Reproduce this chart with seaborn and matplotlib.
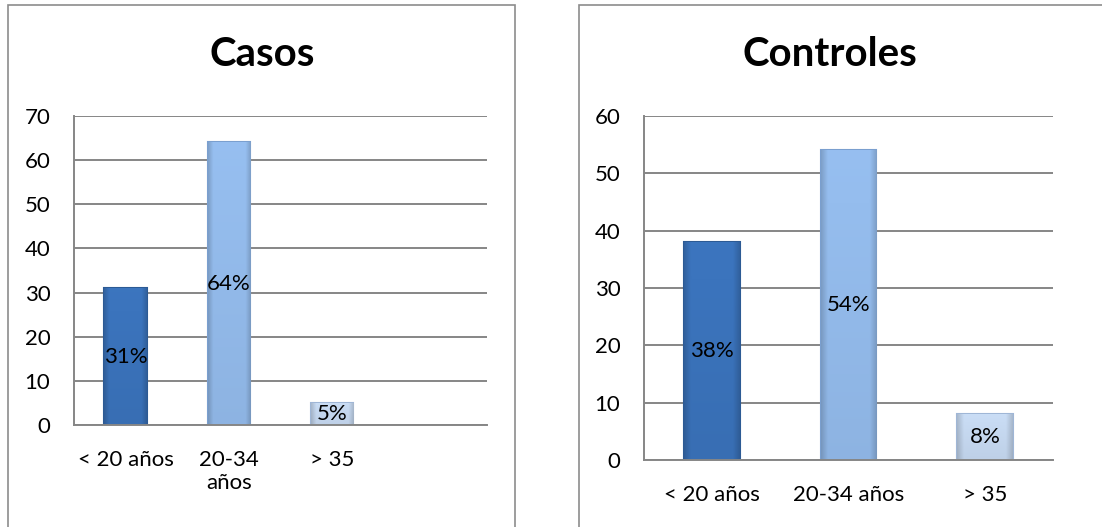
import matplotlib
matplotlib.use('Agg')
import matplotlib.pyplot as plt
from matplotlib.patches import Rectangle
from matplotlib.ticker import FixedLocator
from matplotlib.colors import to_rgb
import numpy as np
import seaborn as sns

# Data
casos_labels = ['< 20 años', '20-34\naños', '> 35']
casos_values = [31, 64, 5]
casos_pct = ['31%', '64%', '5%']

controles_labels = ['< 20 años', '20-34 años', '> 35']
controles_values = [38, 54, 8]
controles_pct = ['38%', '54%', '8%']

bar_colors = ['#3b74bd', '#95bdee', '#c8dbf3']
edge_colors = ['#2c5a94', '#7a9fcf', '#9fb6d6']
grid_gray = '#868686'

sns.set_style('white')
plt.rcParams['font.family'] = ['Lato', 'DejaVu Sans']
plt.rcParams['text.color'] = 'black'
plt.rcParams['xtick.color'] = 'black'
plt.rcParams['ytick.color'] = 'black'

fig = plt.figure(figsize=(11.02, 5.27), dpi=100)
W, H = 1102, 527


def shade_bar(ax, patch, color):
    # soft bevel look: darker at the sides, slightly darker at the bottom
    x0, y0 = patch.get_x(), patch.get_y()
    w, h = patch.get_width(), patch.get_height()
    base = np.array(to_rgb(color))
    xs = np.linspace(0, 1, 60)
    ys = np.linspace(0, 1, 80)[:, None]
    side = 1.0 - 0.16 * np.clip(1 - np.minimum(xs, 1 - xs) / 0.12, 0, 1)
    vert = 0.95 + 0.06 * ys
    fac = (side[None, :] * vert)[..., None]
    img = np.clip(base * fac, 0, 1)
    im = ax.imshow(img, extent=(x0, x0 + w, y0, y0 + h), origin='lower',
                   aspect='auto', interpolation='bilinear', zorder=2.5)
    im.set_clip_path(patch)


def style_axis(ax, n_slots, ymax, label_pad):
    ax.set_xlim(-0.5, n_slots - 0.5)
    ax.set_ylim(0, ymax)
    ax.set_yticks(range(0, ymax + 1, 10))
    ax.yaxis.grid(True, color=grid_gray, linewidth=1.4)
    ax.set_axisbelow(True)
    sns.despine(ax=ax, top=True, right=True)
    for s in ['left', 'bottom']:
        ax.spines[s].set_color(grid_gray)
        ax.spines[s].set_linewidth(1.4)
    ax.xaxis.set_minor_locator(FixedLocator([i - 0.5 for i in range(n_slots + 1)]))
    ax.tick_params(axis='x', which='major', length=0, pad=label_pad, labelsize=16)
    ax.tick_params(axis='x', which='minor', length=7, width=1.4, color=grid_gray, direction='out')
    ax.tick_params(axis='y', length=7, width=1.4, color=grid_gray, labelcolor='black',
                   direction='out', pad=10, labelsize=16)
    ax.set_xlabel('')
    ax.set_ylabel('')


def draw_panel(ax, labels, values, pct, width):
    sns.barplot(x=labels, y=values, hue=labels, palette=bar_colors, width=width,
                legend=False, ax=ax, saturation=1)
    for cont, col, ec, p in zip(ax.containers, bar_colors, edge_colors, pct):
        for patch in cont:
            patch.set_edgecolor(ec)
            patch.set_linewidth(1.5)
            shade_bar(ax, patch, col)
        ax.bar_label(cont, labels=[p], label_type='center', fontsize=16, color='black', zorder=4)


# Casos
ax1 = fig.add_axes([74 / W, 1 - 425 / H, (487 - 74) / W, (425 - 116) / H])
draw_panel(ax1, casos_labels, casos_values, casos_pct, 0.41)
style_axis(ax1, 4, 70, 18)

# Controles
ax2 = fig.add_axes([644 / W, 1 - 460 / H, (1053 - 644) / W, (460 - 116) / H])
draw_panel(ax2, controles_labels, controles_values, controles_pct, 0.41)
style_axis(ax2, 3, 60, 18)

# Titles
fig.text(262 / W, 1 - 55 / H, 'Casos', ha='center', va='center', fontsize=29, fontweight='bold')
fig.text(830 / W, 1 - 55 / H, 'Controles', ha='center', va='center', fontsize=29, fontweight='bold')

# Panel borders
fig.add_artist(Rectangle((8 / W, -0.02), (515 - 8) / W, 1.02 - 5 / H, transform=fig.transFigure,
                         fill=False, edgecolor='#8c8c8c', linewidth=1.2))
fig.add_artist(Rectangle((579 / W, -0.02), 0.5, 1.02 - 5 / H, transform=fig.transFigure,
                         fill=False, edgecolor='#8c8c8c', linewidth=1.2))

plt.savefig('out.png', dpi=100)
